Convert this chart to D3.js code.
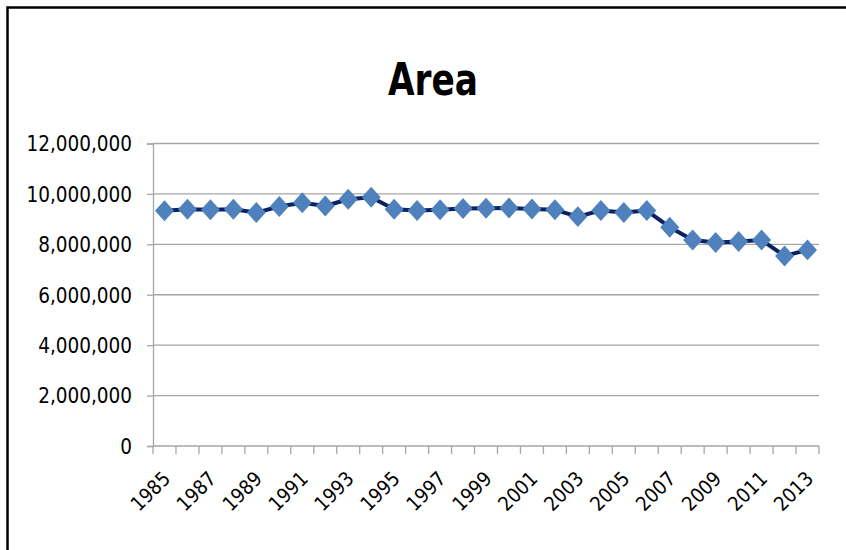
<!DOCTYPE html>
<html>
<head>
<meta charset="utf-8">
<script src="https://cdn.jsdelivr.net/npm/d3@7"></script>
<style>
  body { margin: 0; background: #fff; }
  #wrapper { width: 846px; height: 550px; }
  text { font-family: "Liberation Sans Narrow", "DejaVu Sans Condensed", "Roboto Condensed", sans-serif; }
</style>
</head>
<body>
<div id="wrapper"></div>
<script>
// data
const years = [1985, 1986, 1987, 1988, 1989, 1990, 1991, 1992, 1993, 1994,
    1995, 1996, 1997, 1998, 1999, 2000, 2001, 2002, 2003, 2004,
    2005, 2006, 2007, 2008, 2009, 2010, 2011, 2012, 2013];
const areaValues = [9330000, 9390000, 9370000, 9390000, 9260000, 9500000, 9650000, 9520000, 9790000, 9870000,
    9390000, 9340000, 9370000, 9420000, 9430000, 9440000, 9400000, 9370000, 9100000, 9340000,
    9260000, 9340000, 8680000, 8170000, 8070000, 8110000, 8170000, 7540000, 7780000];
const yTicks = [0, 2000000, 4000000, 6000000, 8000000, 10000000, 12000000];
const xLabelYears = years.filter((y, i) => i % 2 == 0);
const chartTitle = "Area";

function drawChart() {
    const dataset = years.map((y, i) => ({ year: y, value: areaValues[i] }));
    const xAccessor = d => d.year;
    const yAccessor = d => d.value;

    let dimensions = {
        width: 846,
        height: 550,
        margin: {
            top: 143.5,
            right: 27,
            bottom: 104,
            left: 153,
        },
    }
    dimensions.boundedWidth = dimensions.width
        - dimensions.margin.left
        - dimensions.margin.right
    dimensions.boundedHeight = dimensions.height
        - dimensions.margin.top
        - dimensions.margin.bottom

    const wrapper = d3.select("#wrapper")
        .html("")
        .append("svg")
        .attr("width", dimensions.width)
        .attr("height", dimensions.height);

    // chart frame (runs off the right and bottom edges)
    wrapper.append("rect")
        .attr("x", 7.5)
        .attr("y", 7.5)
        .attr("width", 860)
        .attr("height", 560)
        .attr("fill", "none")
        .attr("stroke", "black")
        .attr("stroke-width", 2.5);

    wrapper.append("text")
        .attr("x", 433)
        .attr("y", 95)
        .attr("text-anchor", "middle")
        .attr("font-size", "45px")
        .attr("font-weight", "bold")
        .attr("textLength", 90)
        .attr("lengthAdjust", "spacingAndGlyphs")
        .attr("fill", "black")
        .text(chartTitle);

    const bounds = wrapper.append("g")
        .attr("transform", `translate(${dimensions.margin.left},${dimensions.margin.top})`);

    const xScaler = d3.scaleBand()
        .domain(years)
        .range([0, dimensions.boundedWidth]);

    const yScaler = d3.scaleLinear()
        .domain([0, 12000000])
        .range([dimensions.boundedHeight, 0]);

    // gridlines
    bounds.append("g")
        .selectAll("line")
        .data(yTicks.slice(1))
        .join("line")
        .attr("x1", 0)
        .attr("x2", dimensions.boundedWidth)
        .attr("y1", d => yScaler(d))
        .attr("y2", d => yScaler(d))
        .attr("stroke", "#a6a6a6")
        .attr("stroke-width", 1.3);

    // y axis
    const yAxisGen = d3.axisLeft()
        .scale(yScaler)
        .tickValues(yTicks)
        .tickFormat(d3.format(","))
        .tickSize(6)
        .tickPadding(15);
    const yAxis = bounds.append("g").call(yAxisGen);
    yAxis.select(".domain").attr("stroke", "#a6a6a6").attr("stroke-width", 1.3);
    yAxis.selectAll(".tick line").attr("stroke", "#a6a6a6").attr("stroke-width", 1.3);
    yAxis.selectAll(".tick text")
        .attr("font-size", "20.5px")
        .attr("fill", "black")
        .attr("dy", "0.36em");

    // x axis: ticks between categories
    const xAxis = bounds.append("g")
        .attr("transform", `translate(0,${dimensions.boundedHeight})`);
    xAxis.append("line")
        .attr("x1", 0)
        .attr("x2", dimensions.boundedWidth)
        .attr("stroke", "#a6a6a6")
        .attr("stroke-width", 1.3);
    xAxis.selectAll(".xtick")
        .data(years.concat([null]))
        .join("line")
        .attr("class", "xtick")
        .attr("x1", (d, i) => i * xScaler.step())
        .attr("x2", (d, i) => i * xScaler.step())
        .attr("y1", 0)
        .attr("y2", 8)
        .attr("stroke", "#a6a6a6")
        .attr("stroke-width", 1.3);
    xAxis.selectAll(".xlabel")
        .data(xLabelYears)
        .join("text")
        .attr("class", "xlabel")
        .attr("transform", d => `translate(${xScaler(d) + xScaler.bandwidth() / 2 + 7},${34}) rotate(-45)`)
        .attr("text-anchor", "end")
        .attr("font-size", "20px")
        .attr("fill", "black")
        .text(d => d);

    const xCenter = d => xScaler(xAccessor(d)) + xScaler.bandwidth() / 2;

    const lineGen = d3.line()
        .x(xCenter)
        .y(d => yScaler(yAccessor(d)));

    bounds.append("path")
        .datum(dataset)
        .attr("d", lineGen)
        .attr("fill", "none")
        .attr("stroke", "#0b2161")
        .attr("stroke-width", 4)
        .attr("stroke-linejoin", "round");

    const diamond = d3.symbol().type(d3.symbolDiamond2).size(230);
    bounds.append("g")
        .selectAll("path")
        .data(dataset)
        .join("path")
        .attr("d", diamond)
        .attr("transform", d => `translate(${xCenter(d)},${yScaler(yAccessor(d))}) scale(1,1.1)`)
        .attr("fill", "#4f81bd");
}

drawChart();
</script>
</body>
</html>
